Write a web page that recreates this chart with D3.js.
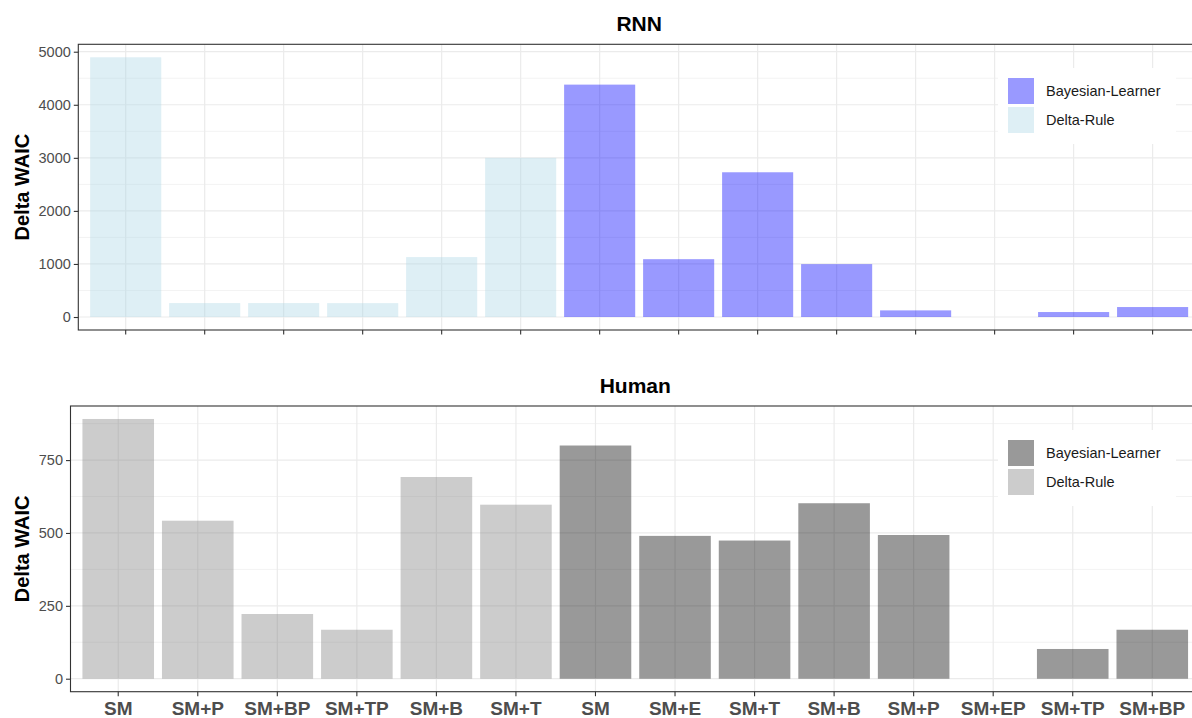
<!DOCTYPE html>
<html>
<head>
<meta charset="utf-8">
<script src="https://cdn.jsdelivr.net/npm/d3@7"></script>
<style>
  body { margin: 0; background: #fff; }
  svg { font-family: "Liberation Sans", Arial, sans-serif; display: block; }
</style>
</head>
<body>
<div id="chart"></div>
<script>
const categories = ["SM", "SM+P", "SM+BP", "SM+TP", "SM+B", "SM+T", "SM", "SM+E", "SM+T", "SM+B", "SM+P", "SM+EP", "SM+TP", "SM+BP"];
const models = ["Delta-Rule", "Delta-Rule", "Delta-Rule", "Delta-Rule", "Delta-Rule", "Delta-Rule",
    "Bayesian-Learner", "Bayesian-Learner", "Bayesian-Learner", "Bayesian-Learner",
    "Bayesian-Learner", "Bayesian-Learner", "Bayesian-Learner", "Bayesian-Learner"];
const rnnValues = [4895, 263, 263, 262, 1130, 3000, 4380, 1090, 2728, 997, 125, 0, 94, 188];
const humanValues = [891, 542, 222, 168, 692, 597, 800, 490, 474, 602, 493, 0, 102, 168];
const legendModels = ["Bayesian-Learner", "Delta-Rule"];
const rnnTicks = [0, 1000, 2000, 3000, 4000, 5000];
const humanTicks = [0, 250, 500, 750];

const width = 1192, height = 718;

const svg = d3.create("svg")
    .attr("width", width)
    .attr("height", height);

function drawPanel(opts) {
    const { values, ticks, minorStep, left, top, bottom, right, title, colors, showLabels, titleY, legendTop } = opts;
    const idx = d3.range(categories.length);

    const x = d3.scaleBand()
        .domain(idx)
        .range([left, right])
        .paddingInner(0.1)
        .paddingOuter(0.15);

    const maxV = d3.max(values);
    const y = d3.scaleLinear()
        .domain([-0.05 * maxV, maxV * 1.05])
        .range([bottom, top]);

    const g = svg.append("g");

    // minor grid
    const minor = d3.range(minorStep, maxV * 1.05, minorStep * 2);
    g.selectAll(".minor")
        .data(minor)
        .join("line")
        .attr("x1", left).attr("x2", right)
        .attr("y1", d => y(d)).attr("y2", d => y(d))
        .attr("stroke", "#f3f3f3")
        .attr("stroke-width", 1);

    // major grid
    g.selectAll(".hmajor")
        .data(ticks)
        .join("line")
        .attr("x1", left).attr("x2", right)
        .attr("y1", d => y(d)).attr("y2", d => y(d))
        .attr("stroke", "#ebebeb")
        .attr("stroke-width", 1.2);

    g.selectAll(".vmajor")
        .data(idx)
        .join("line")
        .attr("x1", d => x(d) + x.bandwidth() / 2)
        .attr("x2", d => x(d) + x.bandwidth() / 2)
        .attr("y1", top).attr("y2", bottom)
        .attr("stroke", "#ebebeb")
        .attr("stroke-width", 1.2);

    // bars
    g.selectAll(".bar")
        .data(idx)
        .join("rect")
        .attr("x", d => x(d))
        .attr("width", x.bandwidth())
        .attr("y", d => y(values[d]))
        .attr("height", d => y(0) - y(values[d]))
        .attr("fill", d => colors[models[d]])
        .attr("fill-opacity", 0.4);

    // legend
    const lg = g.append("g");
    lg.append("rect")
        .attr("x", 998).attr("y", legendTop)
        .attr("width", 178).attr("height", 76)
        .attr("fill", "#fff");
    legendModels.forEach((m, i) => {
        const ky = legendTop + 10 + i * 29;
        lg.append("rect")
            .attr("x", 1008).attr("y", ky)
            .attr("width", 26).attr("height", 26)
            .attr("fill", colors[m])
            .attr("fill-opacity", 0.4);
        lg.append("text")
            .attr("x", 1046).attr("y", ky + 13)
            .attr("dy", "0.35em")
            .attr("font-size", 14.5)
            .attr("fill", "#1a1a1a")
            .text(m);
    });

    // panel border
    g.append("rect")
        .attr("x", left).attr("y", top)
        .attr("width", right - left).attr("height", bottom - top)
        .attr("fill", "none")
        .attr("stroke", "#333")
        .attr("stroke-width", 1.1);

    // y axis
    const yAxis = g.append("g")
        .attr("transform", `translate(${left},0)`)
        .call(d3.axisLeft(y).tickValues(ticks).tickFormat(d3.format("d")).tickSize(4.5).tickPadding(3));
    yAxis.select(".domain").remove();
    yAxis.selectAll(".tick line").attr("stroke", "#333").attr("stroke-width", 1.1);
    yAxis.selectAll(".tick text")
        .attr("font-size", 14.5)
        .attr("fill", "#4d4d4d")
        .attr("font-family", "Liberation Sans, Arial, sans-serif");

    // x axis
    const xAxis = g.append("g")
        .attr("transform", `translate(0,${bottom})`)
        .call(d3.axisBottom(x).tickSize(4.5).tickPadding(5)
            .tickFormat(d => showLabels ? categories[d] : ""));
    xAxis.select(".domain").remove();
    xAxis.selectAll(".tick line").attr("stroke", "#333").attr("stroke-width", 1.1);
    xAxis.selectAll(".tick text")
        .attr("font-size", 19)
        .attr("font-weight", "bold")
        .attr("fill", "#4d4d4d")
        .attr("font-family", "Liberation Sans, Arial, sans-serif");

    // titles
    g.append("text")
        .attr("x", (left + right) / 2)
        .attr("y", titleY)
        .attr("text-anchor", "middle")
        .attr("font-size", 21)
        .attr("font-weight", "bold")
        .text(title);

    g.append("text")
        .attr("transform", `translate(29,${(top + bottom) / 2}) rotate(-90)`)
        .attr("text-anchor", "middle")
        .attr("font-size", 20)
        .attr("font-weight", "bold")
        .text("Delta WAIC");
}

drawPanel({
    values: rnnValues, ticks: rnnTicks, minorStep: 500,
    left: 78.3, right: 1200, top: 44.3, bottom: 330,
    title: "RNN", titleY: 30.7, legendTop: 68,
    colors: { "Bayesian-Learner": "#0000ff", "Delta-Rule": "#add8e6" },
    showLabels: false
});

drawPanel({
    values: humanValues, ticks: humanTicks, minorStep: 125,
    left: 70.5, right: 1200, top: 406, bottom: 691.7,
    title: "Human", titleY: 392.7, legendTop: 430,
    colors: { "Bayesian-Learner": "#000000", "Delta-Rule": "#7f7f7f" },
    showLabels: true
});

document.getElementById("chart").appendChild(svg.node());
</script>
</body>
</html>
